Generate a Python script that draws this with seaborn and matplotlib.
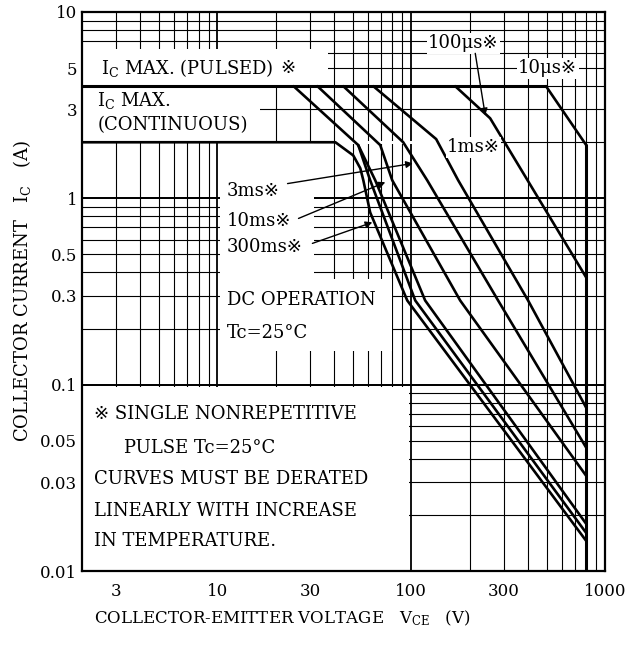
import matplotlib
matplotlib.use("Agg")
import matplotlib.pyplot as plt
from matplotlib.patches import Rectangle
import pandas as pd
import seaborn as sns

# 安全動作領域 (SOA) 曲線頂點, 由原圖讀取 (VCE [V], IC [A])
dc_v = [2, 40.6, 50.2, 54.6, 56.6, 61.4, 95.4, 800]
dc_i = [2, 2, 1.70, 1.45, 1.25, 0.84, 0.283, 0.0145]
ms300_v = [24.7, 53.3, 61.4, 104.9, 800]
ms300_i = [4, 1.93, 1.25, 0.283, 0.016]
extra_v = [53.3, 65.2, 118, 800]
extra_i = [1.93, 1.25, 0.283, 0.0179]
ms10_v = [32.8, 69.2, 79.8, 178.9, 800]
ms10_i = [4, 1.93, 1.25, 0.283, 0.0324]
ms3_v = [44.6, 90.9, 120.9, 280.8, 800]
ms3_i = [4, 2.0, 1.25, 0.283, 0.0459]
ms1_v = [63.7, 134.5, 174.7, 401, 800]
ms1_i = [4, 2.08, 1.25, 0.283, 0.0752]
us100_v = [168.6, 255.4, 800]
us100_i = [4, 2.69, 0.376]
us10_v = [496, 800]
us10_i = [4, 1.93]

# 最大額定
ic_pulsed_v = [2, 496]
ic_pulsed_i = [4, 4]
vceo_v = [800, 800]
vceo_i = [1.93, 0.01]

# 刻度
xticks = [3, 10, 30, 100, 300, 1000]
xticklabels = ['3', '10', '30', '100', '300', '1000']
yticks = [0.01, 0.03, 0.05, 0.1, 0.3, 0.5, 1, 3, 5, 10]
yticklabels = ['0.01', '0.03', '0.05', '0.1', '0.3', '0.5', '1', '3', '5', '10']

sns.set_style("white")
plt.rcParams['font.family'] = ['DejaVu Serif', 'DejaVu Sans', 'Noto Sans CJK JP']
plt.rcParams['mathtext.fontset'] = 'dejavuserif'
plt.rcParams['text.color'] = 'black'
plt.rcParams['axes.labelcolor'] = 'black'
plt.rcParams['xtick.color'] = 'black'
plt.rcParams['ytick.color'] = 'black'

curves = [('DC', dc_v, dc_i), ('300ms', ms300_v, ms300_i), ('x', extra_v, extra_i),
          ('10ms', ms10_v, ms10_i), ('3ms', ms3_v, ms3_i), ('1ms', ms1_v, ms1_i),
          ('100us', us100_v, us100_i), ('10us', us10_v, us10_i)]
rows = []
for name, vs, cs in curves:
    for k, (v, c) in enumerate(zip(vs, cs)):
        rows.append({'curve': name, 'order': k, 'vce': v, 'ic': c})
df = pd.DataFrame(rows)

fig = plt.figure(figsize=(6.37, 6.46), dpi=100)
ax = fig.add_axes([82 / 637, 75 / 646, 523 / 637, 559 / 646])
ax.set_xscale('log')
ax.set_yscale('log')
ax.set_xlim(2, 1000)
ax.set_ylim(0.01, 10)

# 方格線
for e in range(0, 3):
    for k in range(2, 11):
        v = k * 10 ** e
        if 2 < v < 1000:
            ax.axvline(v, color='k', lw=1.3 if k == 10 else 0.8, zorder=1)
for e in range(-2, 1):
    for k in range(1, 11):
        c = k * 10 ** e
        if 0.01 < c < 10:
            ax.axhline(c, color='k', lw=1.3 if k in (1, 10) else 0.8, zorder=1)

# 文字底下的白色區塊
boxes = [((2, 4.06), (37, 6.3)), ((2, 2.03), (16.5, 3.95)),
         ((10.25, 0.37), (31.5, 1.97)), ((10.25, 0.152), (80, 0.37)),
         ((2, 0.01), (97.5, 0.0975)), ((41, 1.96), (287, 2.04))]
for (x0, y0), (x1, y1) in boxes:
    ax.add_patch(Rectangle((x0, y0), x1 - x0, y1 - y0, facecolor='white',
                           edgecolor='none', zorder=1.5))

sns.lineplot(data=df, x='vce', y='ic', units='curve', estimator=None, sort=False,
             color='black', lw=1.9, ax=ax, legend=False, zorder=3)
ax.plot(ic_pulsed_v, ic_pulsed_i, color='k', lw=2.2, zorder=3)
ax.plot(vceo_v, vceo_i, color='k', lw=2.2, zorder=3)

ax.set_xticks(xticks)
ax.set_xticklabels(xticklabels)
ax.set_yticks(yticks)
ax.set_yticklabels(yticklabels)
ax.minorticks_off()
ax.tick_params(axis='x', length=0, pad=8.5, labelsize=12, colors='black')
ax.tick_params(axis='y', length=0, pad=3.5, labelsize=12, colors='black')
for s in ax.spines.values():
    s.set_linewidth(1.6)
    s.set_color('k')
    s.set_zorder(4)

ax.set_xlabel(r'COLLECTOR-EMITTER VOLTAGE   V$_\mathregular{CE}$   (V)', fontsize=12)
ax.xaxis.set_label_coords(0.382, -0.068)
ax.set_ylabel(r'COLLECTOR CURRENT   I$_\mathregular{C}$   (A)', fontsize=13)
ax.yaxis.set_label_coords(-0.093, 0.5)

wb = dict(facecolor='white', edgecolor='none', pad=1.0)
t1 = ax.text(2.5, 5.0, r'I$_\mathregular{C}$ MAX. (PULSED)', fontsize=13, va='center', zorder=4)
ax.annotate('※', xy=(1, 0.5), xycoords=t1, xytext=(5, 0), textcoords='offset points',
            fontsize=13, va='center', zorder=4)
ax.text(2.4, 3.36, r'I$_\mathregular{C}$ MAX.', fontsize=13, va='center', zorder=4)
ax.text(2.4, 2.47, '(CONTINUOUS)', fontsize=13, va='center', zorder=4)

ax.text(11.2, 1.1, '3ms※', fontsize=13, va='center', zorder=4)
ax.text(11.2, 0.76, '10ms※', fontsize=13, va='center', zorder=4)
ax.text(11.2, 0.545, '300ms※', fontsize=13, va='center', zorder=4)
ax.text(11.2, 0.283, 'DC OPERATION', fontsize=13, va='center', zorder=4)
ax.text(11.2, 0.19, 'Tc=25°C', fontsize=13, va='center', zorder=4)

ax.text(122, 6.8, '100μs※', fontsize=13, va='center', bbox=wb, zorder=4)
ax.text(356, 5.0, '10μs※', fontsize=13, va='center', bbox=wb, zorder=4)
ax.text(153, 1.88, '1ms※', fontsize=13, va='center', bbox=wb, zorder=4)

ax.text(2.3, 0.0697, '※ SINGLE NONREPETITIVE', fontsize=13, va='center', zorder=4)
ax.text(3.3, 0.0459, 'PULSE Tc=25°C', fontsize=13, va='center', zorder=4)
ax.text(2.3, 0.031, 'CURVES MUST BE DERATED', fontsize=13, va='center', zorder=4)
ax.text(2.3, 0.021, 'LINEARLY WITH INCREASE', fontsize=13, va='center', zorder=4)
ax.text(2.3, 0.0145, 'IN TEMPERATURE.', fontsize=13, va='center', zorder=4)

arr = dict(arrowstyle='-|>', color='k', lw=1.0, mutation_scale=10, shrinkA=0, shrinkB=0)
ax.annotate('', xy=(102, 1.54), xytext=(23, 1.2), arrowprops=arr, zorder=4)
ax.annotate('', xy=(73.5, 1.22), xytext=(26.2, 0.78), arrowprops=arr, zorder=4)
ax.annotate('', xy=(63, 0.743), xytext=(30.9, 0.573), arrowprops=arr, zorder=4)
ax.annotate('', xy=(241, 2.79), xytext=(214, 6.0), arrowprops=arr, zorder=4)

fig.savefig('out.png', dpi=100, facecolor='white')
